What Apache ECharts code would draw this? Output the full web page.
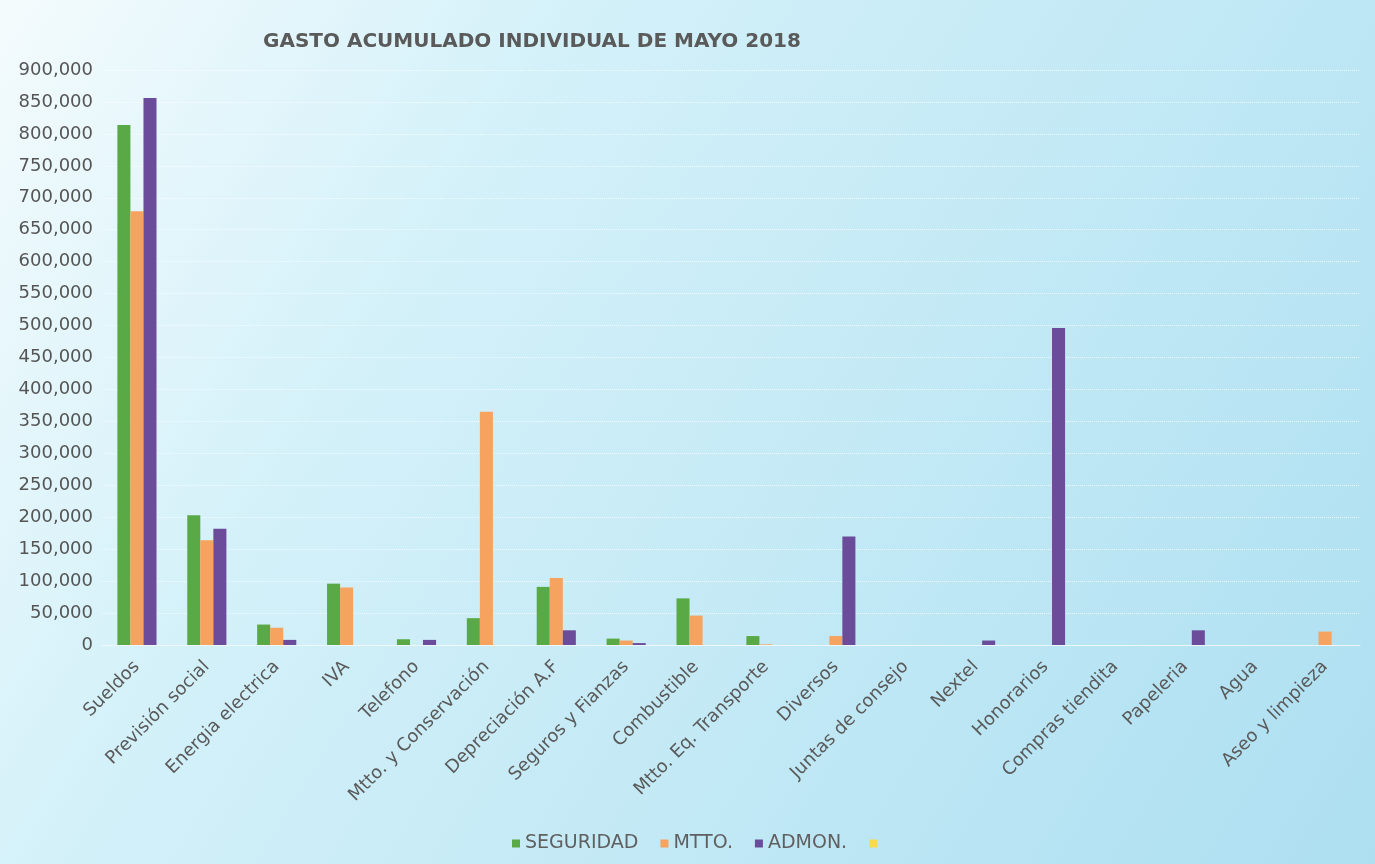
<!DOCTYPE html>
<html><head><meta charset="utf-8">
<script src="https://cdn.jsdelivr.net/npm/echarts@6/dist/echarts.min.js"></script>
<style>html,body{margin:0;padding:0;background:#c6ebf7}#c{width:1375px;height:864px}</style>
</head><body><div id="c"></div>
<script>
const categories = ["Sueldos","Previsión social","Energia electrica","IVA","Telefono","Mtto. y Conservación","Depreciación A.F","Seguros y Fianzas","Combustible","Mtto. Eq. Transporte","Diversos","Juntas de consejo","Nextel","Honorarios","Compras tiendita","Papeleria","Agua","Aseo y limpieza"];
const seguridad = [814000,203000,32000,96000,9000,42000,91000,10000,73000,14000,0,0,0,0,0,0,0,0];
const mtto      = [679000,164000,27000,90000,0,365000,105000,7000,46000,1000,14000,0,0,0,0,0,0,21000];
const admon     = [856000,182000,8000,0,8000,0,23000,3000,0,0,170000,0,7000,496000,0,23000,0,0];
const extra     = [];
const yTicks = {min:0,max:900000,interval:50000};

const F = 'DejaVu Sans';
const chart = echarts.init(document.getElementById('c'));
chart.setOption({
  backgroundColor: {type:'linear',x:0,y:0,x2:1,y2:1,colorStops:[{offset:0,color:'#f4fbfd'},{offset:0.3,color:'#d4f1f9'},{offset:1,color:'#addff1'}]},
  title:{text:'GASTO ACUMULADO INDIVIDUAL DE MAYO 2018',left:258,top:27,textStyle:{fontFamily:F,fontSize:20,fontWeight:'bold',color:'#5a5a5a'}},
  legend:{bottom:6,left:507,itemWidth:8,itemHeight:8,itemGap:22,icon:'rect',
    textStyle:{fontFamily:F,fontSize:19,color:'#606060'},
    data:['SEGURIDAD','MTTO.','ADMON.',' ']},
  grid:{left:102,right:15,top:70,bottom:219,containLabel:false},
  xAxis:{type:'category',data:categories,
    axisLine:{lineStyle:{color:'#eef8fb'}},axisTick:{show:false},
    axisLabel:{rotate:45,interval:0,fontFamily:F,fontSize:18,color:'#5a5a5a',margin:19}},
  yAxis:{type:'value',min:yTicks.min,max:yTicks.max,interval:yTicks.interval,
    axisLine:{show:false},axisTick:{show:false},
    splitLine:{lineStyle:{color:'rgba(255,255,255,0.7)',type:'dotted'}},
    axisLabel:{fontFamily:F,fontSize:18,color:'#555',margin:9,
      formatter:v=>v.toLocaleString('en-US')}},
  series:[
    {name:'SEGURIDAD',type:'bar',data:seguridad,barGap:'0%',barCategoryGap:'44%',itemStyle:{color:'#5aa947'}},
    {name:'MTTO.',type:'bar',data:mtto,itemStyle:{color:'#f5a35e'}},
    {name:'ADMON.',type:'bar',data:admon,itemStyle:{color:'#6b4c9a'}},
    {name:' ',type:'line',data:extra,itemStyle:{color:'#f4dc4c'},lineStyle:{color:'#f4dc4c'}}
  ]
});
</script></body></html>
